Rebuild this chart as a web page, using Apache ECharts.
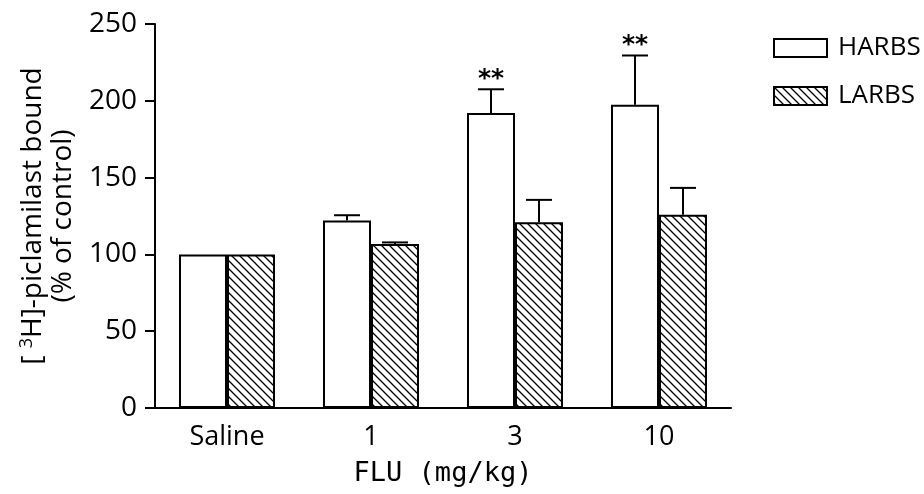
<!DOCTYPE html>
<html><head><meta charset="utf-8">
<script src="https://cdn.jsdelivr.net/npm/echarts@6/dist/echarts.min.js"></script>
<style>html,body{margin:0;padding:0;background:#fff}#c{width:924px;height:494px}</style>
</head><body><div id="c"></div>
<script>
const categories = ['Saline', '1', '3', '10'];
const harbs = [100, 122, 192, 197.5];
const harbsErr = [0, 3.5, 15.5, 32];
const larbs = [100, 106.8, 121, 125.8];
const larbsErr = [0, 1, 14.5, 17.5];
const harbsMarks = ['', '', '**', '**'];
const yTicks = [0, 50, 100, 150, 200, 250];

const FONT = 'Open Sans';
function hatch() {
  const s = 8, c = document.createElement('canvas');
  c.width = s; c.height = s;
  const g = c.getContext('2d');
  g.fillStyle = '#fff'; g.fillRect(0, 0, s, s);
  g.strokeStyle = '#000'; g.lineWidth = 1.3;
  g.beginPath();
  g.moveTo(-1, -1); g.lineTo(s + 1, s + 1);
  g.moveTo(-1, s - 1); g.lineTo(1, s + 1);
  g.moveTo(s - 1, -1); g.lineTo(s + 1, 1);
  g.stroke();
  return c;
}
const pat = { image: hatch(), repeat: 'repeat' };

function errSeries(vals, errs, marks, sign) {
  return {
    type: 'custom',
    data: vals.map((v, i) => [i, v, errs[i]]),
    z: 5,
    renderItem: function (params, api) {
      const i = api.value(0), v = api.value(1), e = api.value(2);
      const band = api.size([1, 0])[0];
      const p0 = api.coord([i, v]);
      const x = p0[0] + sign * band / 6;
      const p1 = api.coord([i, v + e]);
      const children = [];
      if (e > 0) {
        children.push({ type: 'line', shape: { x1: x, y1: p0[1], x2: x, y2: p1[1] }, style: { stroke: '#000', lineWidth: 2 } });
        children.push({ type: 'line', shape: { x1: x - 13, y1: p1[1], x2: x + 13, y2: p1[1] }, style: { stroke: '#000', lineWidth: 2 } });
      }
      const m = marks ? marks[params.dataIndex] : '';
      if (m) {
        children.push({ type: 'text', style: { x: x, y: p1[1] + 3, text: m, fill: '#000', font: 'bold 25px DejaVu Sans', textAlign: 'center', textVerticalAlign: 'bottom' } });
      }
      return { type: 'group', children: children };
    }
  };
}

const chart = echarts.init(document.getElementById('c'));
chart.setOption({
  animation: false,
  backgroundColor: '#fff',
  grid: { left: 155, right: 193, top: 24, bottom: 86 },
  legend: {
    orient: 'vertical', left: 773, top: 35, padding: 0, itemWidth: 53, itemHeight: 18, itemGap: 22, icon: 'rect',
    textStyle: { fontFamily: FONT, fontSize: 26, color: '#000', padding: [0, 0, 0, 6] },
    data: ['HARBS', 'LARBS']
  },
  xAxis: {
    type: 'category', data: categories,
    axisLine: { lineStyle: { color: '#000', width: 2 } },
    axisTick: { show: false },
    axisLabel: { color: '#000', fontFamily: FONT, fontSize: 27, margin: 16 },
    name: 'FLU (mg/kg)', nameLocation: 'middle', nameGap: 52,
    nameTextStyle: { color: '#000', fontFamily: 'DejaVu Sans Mono', fontSize: 27 }
  },
  yAxis: {
    type: 'value', min: 0, max: 250, interval: 50,
    axisLine: { show: true, lineStyle: { color: '#000', width: 2 } },
    axisTick: { show: true, length: 10, lineStyle: { color: '#000', width: 2 } },
    splitLine: { show: false },
    axisLabel: { color: '#000', fontFamily: FONT, fontSize: 28, margin: 18,
      formatter: v => yTicks.includes(v) ? String(v) : '' },
    name: '{n|[ }{s|3}{n|H]-piclamilast bound}\n{n|(% of control)}', nameLocation: 'middle', nameGap: 54, nameRotate: 90,
    nameTextStyle: { color: '#000', fontFamily: FONT, fontSize: 28, lineHeight: 30,
      rich: {
        n: { color: '#000', fontFamily: FONT, fontSize: 28, lineHeight: 30 },
        s: { color: '#000', fontFamily: FONT, fontSize: 18, lineHeight: 18, verticalAlign: 'top' }
      } }
  },
  series: [
    { name: 'HARBS', type: 'bar', data: harbs, barGap: '0%', barCategoryGap: '33.33%',
      itemStyle: { color: '#fff', borderColor: '#000', borderWidth: 2 } },
    { name: 'LARBS', type: 'bar', data: larbs,
      itemStyle: { color: pat, borderColor: '#000', borderWidth: 2 } },
    errSeries(harbs, harbsErr, harbsMarks, -1),
    errSeries(larbs, larbsErr, null, 1)
  ]
});
</script></body></html>
